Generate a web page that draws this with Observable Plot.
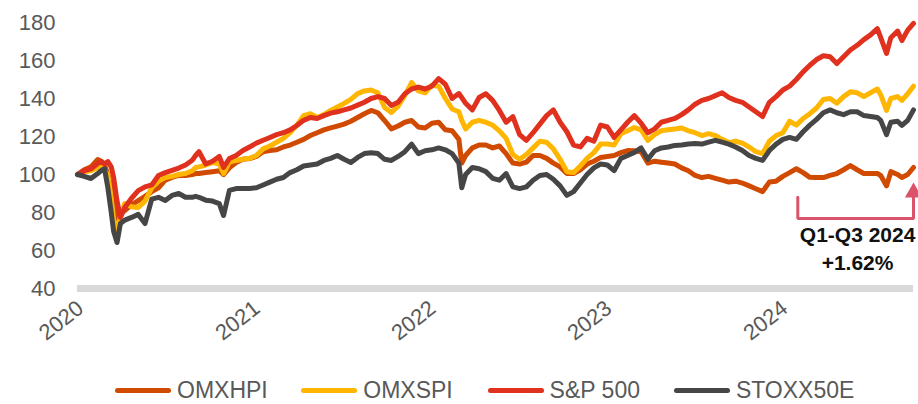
<!DOCTYPE html>
<html>
<head>
<meta charset="utf-8">
<script src="https://cdn.jsdelivr.net/npm/d3@7"></script>
<script src="https://cdn.jsdelivr.net/npm/@observablehq/plot@0.6"></script>
<style>
  html, body { margin: 0; padding: 0; background: #ffffff; }
  #chart { width: 918px; height: 404px; font-family: "Liberation Sans", Arial, sans-serif; }
  .legend { display: flex; align-items: center; height: 28px; padding-top: 6px; margin-left: 115px; font-size: 23px; color: #595959; line-height: 28px; }
  .item { display: flex; align-items: center; width: 186.3px; white-space: nowrap; }
  .sw { width: 56px; height: 5px; border-radius: 2.5px; margin-right: 6px; flex: none; }
</style>
</head>
<body>
<div id="chart"></div>
<script>
// ---- data ----
const dates = [
  "2020-01-01","2020-01-15","2020-01-29","2020-02-12","2020-02-19","2020-02-26","2020-03-04","2020-03-11","2020-03-16","2020-03-23","2020-03-30","2020-04-08","2020-04-22","2020-05-06","2020-05-20","2020-06-03","2020-06-17","2020-07-01","2020-07-15","2020-07-29","2020-08-12","2020-08-26","2020-09-02","2020-09-09","2020-09-23","2020-10-07","2020-10-21","2020-10-30","2020-11-11","2020-11-25","2020-12-09","2020-12-23",
  "2021-01-06","2021-01-20","2021-02-03","2021-02-17","2021-03-03","2021-03-17","2021-03-31","2021-04-14","2021-04-28","2021-05-12","2021-05-26","2021-06-09","2021-06-23","2021-07-07","2021-07-21","2021-08-04","2021-08-18","2021-09-01","2021-09-15","2021-09-29","2021-10-13","2021-10-27","2021-11-10","2021-11-24","2021-12-08","2021-12-22",
  "2022-01-05","2022-01-19","2022-02-02","2022-02-16","2022-03-02","2022-03-08","2022-03-16","2022-03-30","2022-04-13","2022-04-27","2022-05-11","2022-05-25","2022-06-08","2022-06-22","2022-07-06","2022-07-20","2022-08-03","2022-08-17","2022-08-31","2022-09-14","2022-09-28","2022-10-12","2022-10-26","2022-11-09","2022-11-23","2022-12-07","2022-12-21",
  "2023-01-04","2023-01-18","2023-02-01","2023-02-15","2023-03-01","2023-03-15","2023-03-29","2023-04-12","2023-04-26","2023-05-10","2023-05-24","2023-06-07","2023-06-21","2023-07-05","2023-07-19","2023-08-02","2023-08-16","2023-08-30","2023-09-13","2023-09-27","2023-10-11","2023-10-25","2023-11-08","2023-11-22","2023-12-06","2023-12-20",
  "2024-01-03","2024-01-17","2024-01-31","2024-02-14","2024-02-28","2024-03-13","2024-03-27","2024-04-10","2024-04-24","2024-05-08","2024-05-22","2024-06-05","2024-06-19","2024-07-03","2024-07-17","2024-07-24","2024-08-05","2024-08-14","2024-08-28","2024-09-06","2024-09-18","2024-09-30"
];
const omxhpi = [
  100,102.5,104,107.9,107,105,100,93,83,75.8,79.5,81,84,86.3,88.5,91,93,97,98.5,99.5,99.5,100,100.5,100.5,101,101.5,102,100,103.5,106.3,108,108.4,
  109.5,112,112.6,113,114.5,115.5,117,118.5,120.5,122,123.5,124.5,125.5,126.5,128,130,132,133.7,132.5,128.4,124,125.5,127.5,128.4,125,124.5,
  127,127.5,123.5,123,118.5,106,110,114,115.5,115.5,114,115,111,106,105.5,106.5,110,110,108.5,106,104,100.5,100.5,102.5,105.5,107,109,
  109.5,110,111.5,112.6,112.5,112,106,107,106.5,106,105.5,103.5,102,99.5,98.4,99,98,97,96,96.5,95.5,94,92.5,91,96,96.5,
  99,101,103,101,98.5,98.4,98.4,99.5,100.5,102.5,104.7,102.5,100.5,100.5,100.5,99.5,94,101.5,100,98.4,100,103.7
];
const omxspi = [
  100,101.5,102,103.7,104,102,100,87,76,70.5,78,84.7,83,82.6,86,93,96.5,98.4,99,100,100.5,102,103.7,104,105,106.3,105.5,100.5,106.5,107.4,108,108.5,
  110,113.5,115,117,119,122,126,131,132,130,131.5,133.7,135.5,137.4,139.5,142.6,144,144.5,143,135.3,132.6,136,141.6,148.4,144,143,
  147,146.5,140,134.5,133,128.5,124,127.5,128.5,127.5,126,123,119,110.5,108,110.5,114,117.5,117,113.5,108,101.5,101,104.5,108.5,111.5,116,
  116,115.5,121.5,123,124.7,123.5,118,121,123,123.5,124,124.5,123,122,120.5,121.5,120.5,118.5,116.8,117.5,116.5,114.5,112,111,117.5,120.5,
  122,128,126,129.5,132,135,139.5,140,137.5,141,143.5,143,141,143,145,142,133.7,140,141,139,142.5,146.5
];
const sp500 = [
  100,102,103,105.8,107,105.5,106.8,104,98.4,86,77.4,82.6,87.5,91.5,93.5,94.5,99.5,101,102.2,103.4,105,107.5,110,112,105.5,107,109.5,103.7,108.4,110,112.6,114.5,
  116.5,118,119.5,121,122,123.5,125.8,128.5,130,129.5,131,132.3,133,134,135,136.5,138,140,141,140,136.3,138,142.5,145,146,145,
  146.5,150.5,147.5,140,142.6,140.5,137.5,134,140.5,142.5,139,133.7,127.5,130.5,121,118,122,126.5,131,134,127.5,122.5,115.5,114.5,119,117.5,126,
  125,119.5,123.5,127.5,131,127,122,124,127.5,128.5,129.5,131.5,134,137,139,140,141.5,143,140.5,139,138,135.5,133,130.5,138,141,
  144.5,146.5,150,154,157.5,160.5,162.5,162,158.4,162,165.5,168,171,173.5,176.8,172,163.7,172,175.5,170.5,176,179.5
];
const stoxx50e = [
  100,99,97.9,100.5,102,103,93,80,70,64.2,74.2,76,77.4,79,74.2,87,88,86.3,89,90,88,88,88.5,88,86.5,86,84.7,78.4,91.6,92.6,92.6,92.6,
  93,94.5,96,97.5,98.4,101,102.5,104.5,105,105.5,107.4,108.5,110,108,106.3,109,111,111.5,111,108,107.4,109.5,112,116,111,112.5,
  113,114,113,111,106,93,100,103.7,103,101.5,98,97,100.5,93.5,92.6,93.5,97,99.5,100,97.5,94,89,91,95.5,100,103.5,105.5,
  105,102,108.5,110,111.6,114,108,112.5,114,114.5,115.3,115.5,116,116.3,116,117,118,117,116,114.5,112.6,110,108.5,107.4,112.6,116,
  118.5,119.5,118.5,122.5,126,129,132.5,134,132.5,131.5,133,133,131,130.5,130,128.5,121,127.5,128,125.8,128.5,134
];
const seriesNames = ["OMXHPI", "OMXSPI", "S&P 500", "STOXX50E"];
const seriesColors = ["#d04a02", "#ffb600", "#e0301e", "#464646"];
const yTicks = [40, 60, 80, 100, 120, 140, 160, 180];
const xTicks = ["2020-01-01", "2021-01-01", "2022-01-01", "2023-01-01", "2024-01-01"];
const bracketDates = ["2024-02-03", "2024-02-03", "2024-09-30", "2024-09-30"];
const bracketValues = [88, 76.8, 76.8, 89];
const arrowTip = { date: "2024-09-30", value: 90.5 };
const annoText = ["Q1-Q3 2024", "+1.62%"];
const annoDate = "2024-06-06";
const annoValues = [67.9, 53.2];

// ---- build ----
const parse = d3.utcParse("%Y-%m-%d");
const seriesValues = [omxhpi, omxspi, sp500, stoxx50e];
const rows = seriesNames.flatMap((name, k) =>
  dates.map((d, i) => ({ date: parse(d), value: seriesValues[k][i], series: name }))
);
const bracket = bracketDates.map((d, i) => ({ date: parse(d), value: bracketValues[i] }));
const anno = annoText.map((t, i) => ({ date: parse(annoDate), value: annoValues[i], text: t }));

const chart = Plot.plot({
  width: 918,
  height: 370,
  marginLeft: 77,
  marginRight: 5,
  marginTop: 22,
  marginBottom: 82,
  style: { fontFamily: "'Liberation Sans', Arial, sans-serif", fontSize: "22px", color: "#595959", background: "#ffffff" },
  x: { type: "utc", domain: [parse("2020-01-01"), parse("2024-09-30")] },
  y: { domain: [40, 180] },
  color: { domain: seriesNames, range: seriesColors },
  marks: [
    Plot.ruleY([40], { stroke: "#d9d9d9", strokeWidth: 7 }),
    Plot.axisY({ ticks: yTicks, tickSize: 0, tickPadding: 22, label: null, fill: "#595959", fontSize: 22 }),
    Plot.axisX({ ticks: xTicks.map(parse), tickFormat: "%Y", tickSize: 0, tickPadding: 17, tickRotate: -38, dx: 3, label: null, fill: "#595959", fontSize: 22 }),
    Plot.line(rows, { x: "date", y: "value", z: "series", stroke: "series", strokeWidth: 5, strokeLinejoin: "round", strokeLinecap: "round" }),
    Plot.line(bracket, { x: "date", y: "value", stroke: "#db536a", strokeWidth: 3, strokeLinejoin: "miter" }),
    Plot.dot([arrowTip], { x: (d) => parse(d.date), y: "value", symbol: "triangle", r: 6.4, fill: "#db536a", stroke: "none" }),
    Plot.text(anno, { x: "date", y: "value", text: "text", fontWeight: "bold", fontSize: 21, fill: "#111111" })
  ]
});

const root = document.getElementById("chart");
root.appendChild(chart);
const legend = document.createElement("div");
legend.className = "legend";
seriesNames.forEach((name, k) => {
  const item = document.createElement("div");
  item.className = "item";
  const sw = document.createElement("span");
  sw.className = "sw";
  sw.style.background = seriesColors[k];
  const label = document.createElement("span");
  label.textContent = name;
  item.appendChild(sw);
  item.appendChild(label);
  legend.appendChild(item);
});
root.appendChild(legend);
</script>
</body>
</html>
